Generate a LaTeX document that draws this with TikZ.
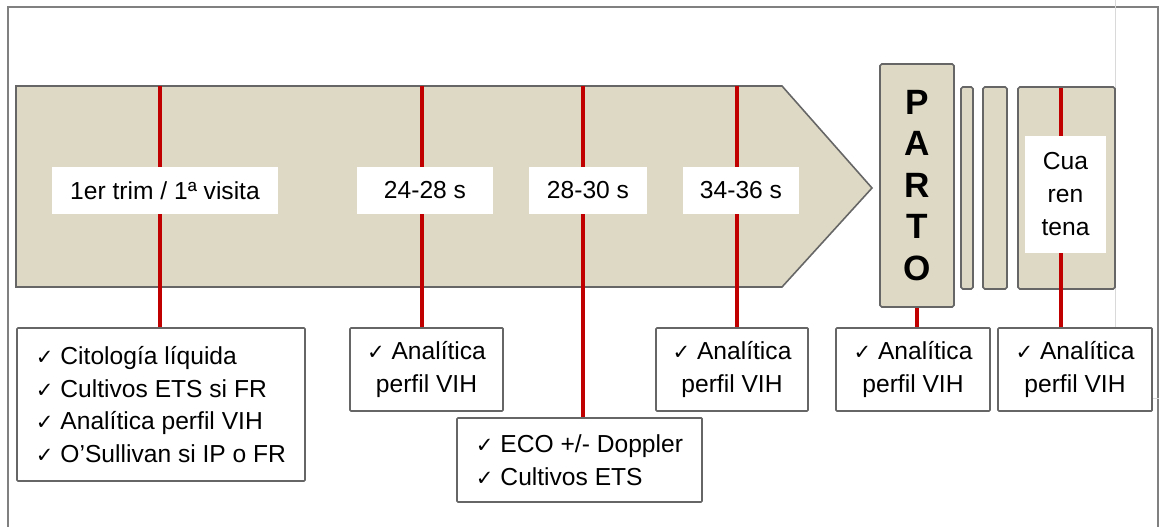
\documentclass[tikz,border=0pt]{standalone}
\usepackage{fontspec}
\setmainfont{Liberation Sans}
\newfontfamily\symfont{DejaVu Sans}
\newcommand{\chk}{{\symfont\fontsize{12}{12}\selectfont ✓}}
\definecolor{barfill}{HTML}{DDD9C4}
\definecolor{darkred}{HTML}{C00000}
\definecolor{edgegray}{HTML}{666666}

\begin{document}
\begin{tikzpicture}[
    timebar/.style={fill=barfill, draw=edgegray, line width=0.9pt},
    redline/.style={darkred, line width=2.3pt},
    weeklabel/.style={fill=white, inner sep=0pt, minimum height=0.94cm, font=\fontsize{14}{18.6}\selectfont},
    testbox/.style={draw=edgegray, fill=white, line width=0.9pt, rounded corners=0.5pt, inner sep=0pt, font=\fontsize{14}{18.6}\selectfont},
  ]
        \useasboundingbox (0,0) rectangle (23.18,10.54);

        % frame
        \draw[gray, line width=1.2pt] (0.16,0) -- (0.16,10.40) -- (23.16,10.40) -- (23.16,0);
        \draw[black!15, line width=0.4pt] (22.30,10.54) -- (22.30,2.58) -- (23.18,2.58);

        % timeline
        \draw[timebar] (0.32,8.82) -- (15.64,8.82) -- (17.44,6.78) -- (15.64,4.80) -- (0.32,4.80) -- cycle;
        \node[timebar, rounded corners=1pt, minimum width=1.48cm, minimum height=4.86cm, inner sep=0pt, align=center, font=\fontsize{20}{23.6}\selectfont\bfseries] (parto) at (18.34,6.83) {P\\A\\R\\T\\O};
        \node[timebar, rounded corners=1pt, minimum width=0.24cm, minimum height=4.04cm, inner sep=0pt] (bar1) at (19.34,6.78) {};
        \node[timebar, rounded corners=1pt, minimum width=0.48cm, minimum height=4.04cm, inner sep=0pt] (bar2) at (19.90,6.78) {};
        \node[timebar, rounded corners=1pt, minimum width=1.94cm, minimum height=4.04cm, inner sep=0pt] (cuar) at (21.33,6.78) {};

        \coordinate (t1) at (3.20,8.82);
        \coordinate (t2) at (8.44,8.82);
        \coordinate (t3) at (11.66,8.82);
        \coordinate (t4) at (14.74,8.82);
        \coordinate (t6) at (21.22,8.78);

        % tests
        \node[testbox, minimum width=5.76cm, minimum height=3.06cm, align=left] (b1) at (3.22,2.45) {\chk{} Citología líquida\\\chk{} Cultivos ETS si FR\\\chk{} Analítica perfil VIH\\\chk{} O’Sullivan si IP o FR};
        \node[testbox, minimum width=3.06cm, minimum height=1.66cm, align=center] (b2) at (8.53,3.15) {\chk{} Analítica\\perfil VIH};
        \node[testbox, minimum width=4.90cm, minimum height=1.68cm, align=left] (b3) at (11.59,1.34) {\chk{} ECO +/- Doppler\\\chk{} Cultivos ETS};
        \node[testbox, minimum width=3.04cm, minimum height=1.66cm, align=center] (b4) at (14.64,3.15) {\chk{} Analítica\\perfil VIH};
        \node[testbox, minimum width=3.08cm, minimum height=1.66cm, align=center] (b5) at (18.26,3.15) {\chk{} Analítica\\perfil VIH};
        \node[testbox, minimum width=3.08cm, minimum height=1.66cm, align=center] (b6) at (21.50,3.15) {\chk{} Analítica\\perfil VIH};

        \draw[redline] (t1) -- (t1 |- b1.north);
        \draw[redline] (t2) -- (t2 |- b2.north);
        \draw[redline] (t3) -- (t3 |- b3.north);
        \draw[redline] (t4) -- (t4 |- b4.north);
        \draw[redline] (parto.south) -- (parto.south |- b5.north);
        \draw[redline] (t6) -- (t6 |- b6.north);

        % weeks
        \node[weeklabel, minimum width=4.52cm] (w1) at (3.30,6.73) {1er trim / 1ª visita};
        \node[weeklabel, minimum width=2.72cm] (w2) at (8.50,6.73) {24-28 s};
        \node[weeklabel, minimum width=2.36cm] (w3) at (11.76,6.73) {28-30 s};
        \node[weeklabel, minimum width=2.32cm] (w4) at (14.82,6.73) {34-36 s};
        \node[weeklabel, minimum width=1.62cm, minimum height=2.34cm, align=center, font=\fontsize{14}{18.8}\selectfont] (w6) at (21.31,6.65) {Cua\\ren\\tena};

\end{tikzpicture}
\end{document}
